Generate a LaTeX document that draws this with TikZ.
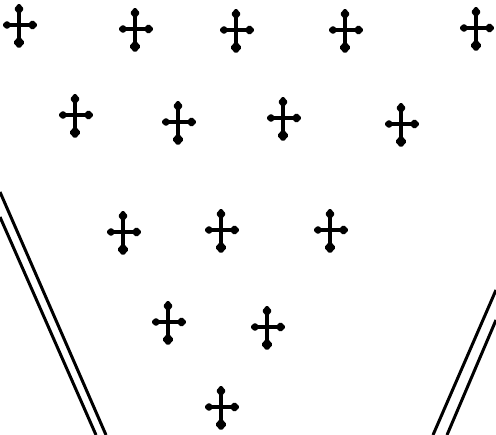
\documentclass[tikz,border=0pt]{standalone}
\begin{document}
\begin{tikzpicture}[x=1pt,y=-1pt]
\tikzset{
  crossmark/.pic={
    \draw[line width=3.6pt] (0,-15) -- (0,16);
    \draw[line width=3.6pt] (-11,0) -- (11,0);
    \fill[rounded corners=1.5pt] (0,-22) -- (5,-16) -- (0,-10) -- (-5,-16) -- cycle;
    \fill[rounded corners=1.8pt] (0,11) -- (6,17.5) -- (0,24) -- (-6,17.5) -- cycle;
    \fill[rounded corners=1.5pt] (8,0) -- (13.5,-5.2) -- (19,0) -- (13.5,5.2) -- cycle;
    \fill[rounded corners=1.5pt] (-7,0) -- (-12,-4.6) -- (-17,0) -- (-12,4.6) -- cycle;
  },
  rail/.style={line width=3pt, black}
}
\useasboundingbox (0,0) rectangle (496,435);
\fill[white] (0,0) rectangle (496,435);
% crosses
\foreach \cx/\cy in {19/25,135/29,236/30,345/30,476/28,
                     75/115,178/122,283/118,401/124,
                     123/232,221/230,330/230,
                     168/322,267/327,
                     221/407}
  \pic at (\cx,\cy) {crossmark};
% left double rail
\draw[rail] (0,192) -- (106,435);
\draw[rail] (0,217) -- (96,435);
% right double rail
\draw[rail] (496,290) -- (433,435);
\draw[rail] (496,320) -- (447,435);
\end{tikzpicture}
\end{document}
